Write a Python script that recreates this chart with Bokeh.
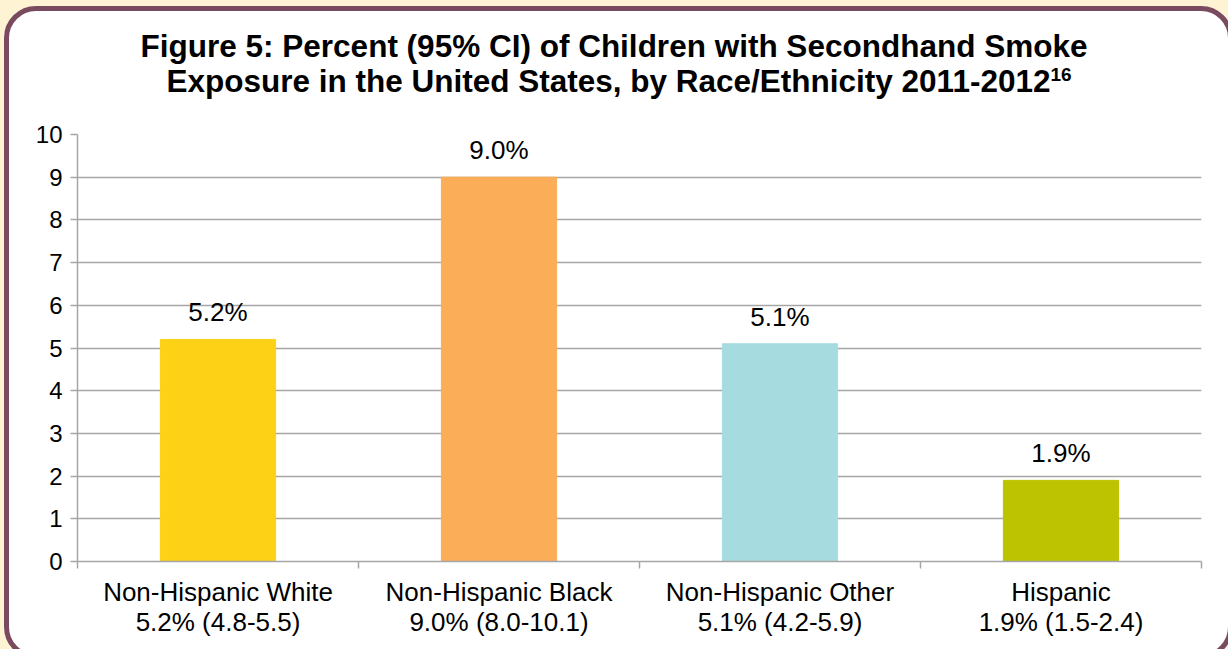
from bokeh.plotting import figure
from bokeh.models import Range1d, FixedTicker, ColumnDataSource, Div, InlineStyleSheet
from bokeh.layouts import column
from bokeh.embed import file_html
from bokeh.resources import INLINE
from bokeh.core.properties import value
import numpy as np

categories = ["Non-Hispanic White", "Non-Hispanic Black", "Non-Hispanic Other", "Hispanic"]
percent = [5.2, 9.0, 5.1, 1.9]
ci_low = [4.8, 8.0, 4.2, 1.5]
ci_high = [5.5, 10.1, 5.9, 2.4]
bar_colors = ["#FCD116", "#FBAD58", "#A6DCE0", "#BDC300"]
y_ticks = list(range(0, 11))
title_line1 = "Figure 5: Percent (95% CI) of Children with Secondhand Smoke"
title_line2 = "Exposure in the United States, by Race/Ethnicity 2011-2012"
title_sup = "16"

FONT = "Liberation Sans"
GRAY = "#A6A6A6"
W, H = 1228, 649
TITLE_H = 120

n = len(categories)
xpos = list(np.arange(n) + 0.5)
bar_labels = [f"{v:.1f}%" for v in percent]
cat_labels = [f"{c}\n{v:.1f}% ({lo:.1f}-{hi:.1f})" for c, v, lo, hi in zip(categories, percent, ci_low, ci_high)]

css = """
:host { position: relative; overflow: hidden; background-color: white; }
:host::after {
  content: ""; position: absolute; left: 4px; top: 6px;
  width: 1219px; height: 643px; box-sizing: content-box;
  border: 5.5px solid #7A4A5E; border-radius: 32px;
  box-shadow: 0 0 0 80px #FEF3D3; pointer-events: none; z-index: 10;
}
"""

title_html = (
    f'<div style="font-family:\'{FONT}\'; font-weight:bold; font-size:31.5px; line-height:35px; '
    f'color:black; text-align:center; padding-top:29px; width:{W}px;">'
    f'<div>{title_line1}</div>'
    f'<div style="padding-left:10px;">{title_line2}'
    f'<sup style="font-size:19px; line-height:0; vertical-align:0; position:relative; top:-11px;">{title_sup}</sup></div>'
    f'</div>'
)
title_div = Div(text=title_html, width=W, height=TITLE_H, margin=(0, 0, 0, 0))

p = figure(width=W, height=H - TITLE_H, output_backend="svg", toolbar_location=None,
           x_range=Range1d(0, n), y_range=Range1d(0, 10), margin=(0, 0, 0, 0),
           min_border_left=77, min_border_right=27, min_border_top=134 - TITLE_H, min_border_bottom=88)
p.border_fill_color = "white"
p.background_fill_color = "white"
p.outline_line_color = None

src = ColumnDataSource(dict(x=xpos, y=percent, color=bar_colors, label=bar_labels))
p.vbar(x="x", top="y", width=0.41, color="color", source=src)
p.text(x="x", y="y", text="label", source=src, y_offset=-27, text_align="center",
       text_baseline="alphabetic", text_font=value(FONT), text_font_size="26px", text_color="black")

# y axis
p.yaxis.ticker = FixedTicker(ticks=y_ticks)
p.yaxis.axis_line_color = GRAY
p.yaxis.axis_line_width = 1.5
p.yaxis.major_tick_line_color = GRAY
p.yaxis.major_tick_line_width = 1.5
p.yaxis.major_tick_out = 7
p.yaxis.major_tick_in = 0
p.yaxis.minor_tick_line_color = None
p.yaxis.major_label_standoff = 8
p.yaxis.major_label_text_font = FONT
p.yaxis.major_label_text_font_size = "24px"
p.yaxis.major_label_text_color = "black"

# x axis
p.xaxis.ticker = FixedTicker(ticks=xpos, minor_ticks=list(range(0, n + 1)))
p.xaxis.major_label_overrides = {x: lab for x, lab in zip(xpos, cat_labels)}
p.xaxis.axis_line_color = GRAY
p.xaxis.axis_line_width = 1.5
p.xaxis.major_tick_line_color = None
p.xaxis.major_tick_out = 0
p.xaxis.major_tick_in = 0
p.xaxis.minor_tick_line_color = GRAY
p.xaxis.minor_tick_line_width = 1.5
p.xaxis.minor_tick_out = 7
p.xaxis.minor_tick_in = 0
p.xaxis.major_label_standoff = 8
p.xaxis.major_label_text_font = FONT
p.xaxis.major_label_text_font_size = "26px"
p.xaxis.major_label_text_color = "black"
p.xaxis.major_label_text_line_height = 1.0

p.xgrid.grid_line_color = None
p.ygrid.ticker = FixedTicker(ticks=y_ticks)
p.ygrid.grid_line_color = GRAY
p.ygrid.grid_line_width = 1.5

layout = column(title_div, p, spacing=0, stylesheets=[InlineStyleSheet(css=css)])

open("out.html", "w").write(file_html(layout, INLINE))
